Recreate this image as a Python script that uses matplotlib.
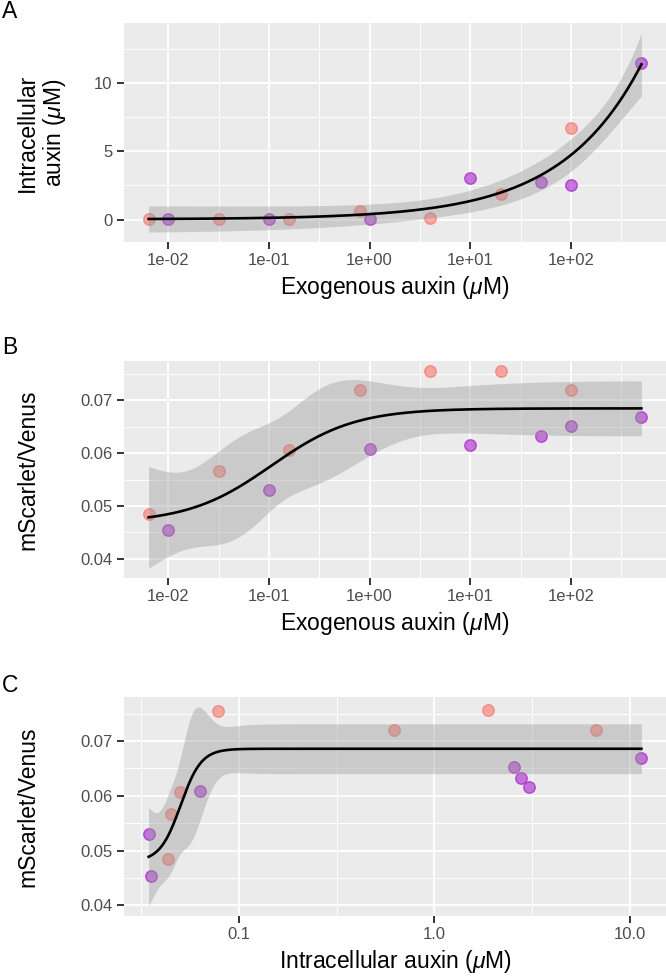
import numpy as np
import matplotlib
matplotlib.use("Agg")
import matplotlib.pyplot as plt
from matplotlib.ticker import FixedLocator, NullFormatter

plt.rcParams["font.family"] = ["Liberation Sans", "DejaVu Sans"]
plt.rcParams["mathtext.fontset"] = "custom"
plt.rcParams["mathtext.rm"] = "Liberation Sans"
plt.rcParams["mathtext.it"] = "Liberation Sans:italic"

# ---- data ----
pink_exo = [0.0064, 0.032, 0.16, 0.8, 4.0, 20.0, 100.0]
pink_intra = [0.0437, 0.0451, 0.0503, 0.62, 0.078, 1.88, 6.70]
pink_ratio = [0.0484, 0.0567, 0.0606, 0.0719, 0.0755, 0.0756, 0.0719]

purple_exo = [0.01, 0.1, 1.0, 10.0, 50.0, 100.0, 500.0]
purple_intra = [0.0356, 0.0346, 0.0634, 3.06, 2.77, 2.55, 11.45]
purple_ratio = [0.0454, 0.0531, 0.0608, 0.0615, 0.0632, 0.0652, 0.0668]

exo_ticks = [0.01, 0.1, 1, 10, 100]
exo_labels = ["1e-02", "1e-01", "1e+00", "1e+01", "1e+02"]
intra_ticks = [0.1, 1, 10]
intra_labels = ["0.1", "1.0", "10.0"]
auxin_yticks = [0, 5, 10]
ratio_yticks = [0.04, 0.05, 0.06, 0.07]

T975 = {10: 2.228139, 11: 2.200985, 12: 2.178813}  # t quantiles, 95% bands

PINK = "#F8766D"
PURPLE = "#A624CC"
BAND = "#999999"
PANEL_BG = "#EBEBEB"


def num_jac(f, x, p):
    J = np.empty((len(x), len(p)))
    for k in range(len(p)):
        h = 1e-6 * max(1.0, abs(p[k]))
        dp = np.zeros_like(p)
        dp[k] = h
        J[:, k] = (f(x, p + dp) - f(x, p - dp)) / (2 * h)
    return J


def lm_fit(f, p0, x, y, iters=400):
    """Plain Levenberg-Marquardt least squares."""
    p = np.array(p0, float)
    lam = 1e-3
    r = y - f(x, p)
    sse = r @ r
    for _ in range(iters):
        J = num_jac(f, x, p)
        A = J.T @ J
        g = J.T @ r
        try:
            step = np.linalg.solve(A + lam * np.diag(np.diag(A)), g)
        except np.linalg.LinAlgError:
            lam *= 10
            continue
        pn = p + step
        rn = y - f(x, pn)
        if rn @ rn < sse:
            p, r, sse = pn, rn, rn @ rn
            lam *= 0.3
        else:
            lam *= 10
    return p, sse


def nls_band(f, p0, x, y, xs):
    """nls-style fit, 95% confidence band of the mean by the delta method."""
    p, sse = lm_fit(f, p0, x, y)
    df = len(y) - len(p)
    J = num_jac(f, x, p)
    cov = sse / df * np.linalg.inv(J.T @ J)
    G = num_jac(f, xs, p)
    se = np.sqrt(np.einsum("ij,jk,ik->i", G, cov, G))
    return f(xs, p), T975[df] * se


def logistic(L, p):
    return p[0] + (p[1] - p[0]) / (1 + np.exp(-p[3] * (L - p[2])))


def power(x, p):
    return p[0] + p[1] * np.abs(x) ** p[2]


def fit_logistic(x, y, p0):
    L = np.log10(x)
    xs = np.logspace(L.min(), L.max(), 300)
    yh, half = nls_band(logistic, p0, L, y, np.log10(xs))
    return xs, yh, half


def fit_power(x, y):
    xs = np.logspace(np.log10(x.min()), np.log10(x.max()), 300)
    yh, half = nls_band(power, [0.0, 0.5, 0.5], x, y, xs)
    return xs, yh, half


def style_axes(ax, xticks, xlabels, yticks, xlabel, ylabel, ylab_x):
    ax.set_facecolor(PANEL_BG)
    for s in ax.spines.values():
        s.set_visible(False)
    ax.set_xscale("log")
    ax.xaxis.set_major_locator(FixedLocator(xticks))
    ax.set_xticklabels(xlabels)
    lo, hi = np.log10(ax.get_xlim())
    mk = np.arange(np.floor(lo) - 1, np.ceil(hi) + 1) + 0.5
    ax.xaxis.set_minor_locator(FixedLocator(10 ** mk))
    ax.xaxis.set_minor_formatter(NullFormatter())
    ax.set_yticks(yticks)
    y0, y1 = ax.get_ylim()
    step = yticks[1] - yticks[0]
    ym = np.arange(yticks[0] - 3 * step, yticks[-1] + 3 * step, step) + step / 2
    ax.yaxis.set_minor_locator(FixedLocator(ym))
    ax.set_ylim(y0, y1)
    ax.grid(which="major", color="white", lw=1.3)
    ax.grid(which="minor", color="white", lw=0.65)
    ax.set_axisbelow(True)
    ax.tick_params(which="major", length=5, width=1.4, color="#333333",
                   labelsize=12, labelcolor="#4D4D4D")
    ax.tick_params(axis="x", pad=3)
    ax.tick_params(axis="y", pad=3.5)
    ax.tick_params(which="minor", length=0)
    ax.set_xlabel(xlabel, fontsize=16.5, labelpad=4)
    ax.set_ylabel(ylabel, fontsize=16.5, va="center", linespacing=1.1)
    ax.yaxis.set_label_coords(ylab_x, 0.5)


def scatter(ax, x, y, color):
    ax.scatter(x, y, s=68, facecolor=matplotlib.colors.to_rgba(color, 0.6),
               edgecolor=matplotlib.colors.to_rgba(color, 0.75), lw=1, zorder=2)


def smooth(ax, xs, yh, half):
    ax.fill_between(xs, yh - half, yh + half, color=BAND, alpha=0.4, lw=0, zorder=3)
    ax.plot(xs, yh, color="black", lw=1.9, zorder=4)


W, H = 666, 976
fig = plt.figure(figsize=(W / 100, H / 100), dpi=100)


def panel(top, bottom):
    return fig.add_axes([124 / W, 1 - bottom / H, 1 - 124 / W, (bottom - top) / H])


exo = np.array(pink_exo + purple_exo)
intra = np.array(pink_intra + purple_intra)
ratio = np.array(pink_ratio + purple_ratio)
mu = r"($\mu$M)"

# A: intracellular vs exogenous auxin
axA = panel(23, 242)
scatter(axA, pink_exo, pink_intra, PINK)
scatter(axA, purple_exo, purple_intra, PURPLE)
smooth(axA, *fit_power(exo, intra))
style_axes(axA, exo_ticks, exo_labels, auxin_yticks,
           "Exogenous auxin " + mu, "Intracellular\nauxin " + mu, -0.152)

# B: ratio vs exogenous auxin
axB = panel(361, 578)
scatter(axB, pink_exo, pink_ratio, PINK)
scatter(axB, purple_exo, purple_ratio, PURPLE)
smooth(axB, *fit_logistic(exo, ratio, [0.045, 0.068, -1.0, 2.0]))
style_axes(axB, exo_ticks, exo_labels, ratio_yticks,
           "Exogenous auxin " + mu, "mScarlet/Venus", -0.178)

# C: ratio vs intracellular auxin
axC = panel(697, 916)
scatter(axC, pink_intra, pink_ratio, PINK)
scatter(axC, purple_intra, purple_ratio, PURPLE)
smooth(axC, *fit_logistic(intra, ratio, [0.045, 0.068, -1.3, 10.0]))
style_axes(axC, intra_ticks, intra_labels, ratio_yticks,
           "Intracellular auxin " + mu, "mScarlet/Venus", -0.178)

for letter, y in (("A", 12), ("B", 348), ("C", 685)):
    fig.text(2 / W, 1 - y / H, letter, fontsize=16.5, va="center", ha="left")

fig.savefig("out.png", dpi=100)
